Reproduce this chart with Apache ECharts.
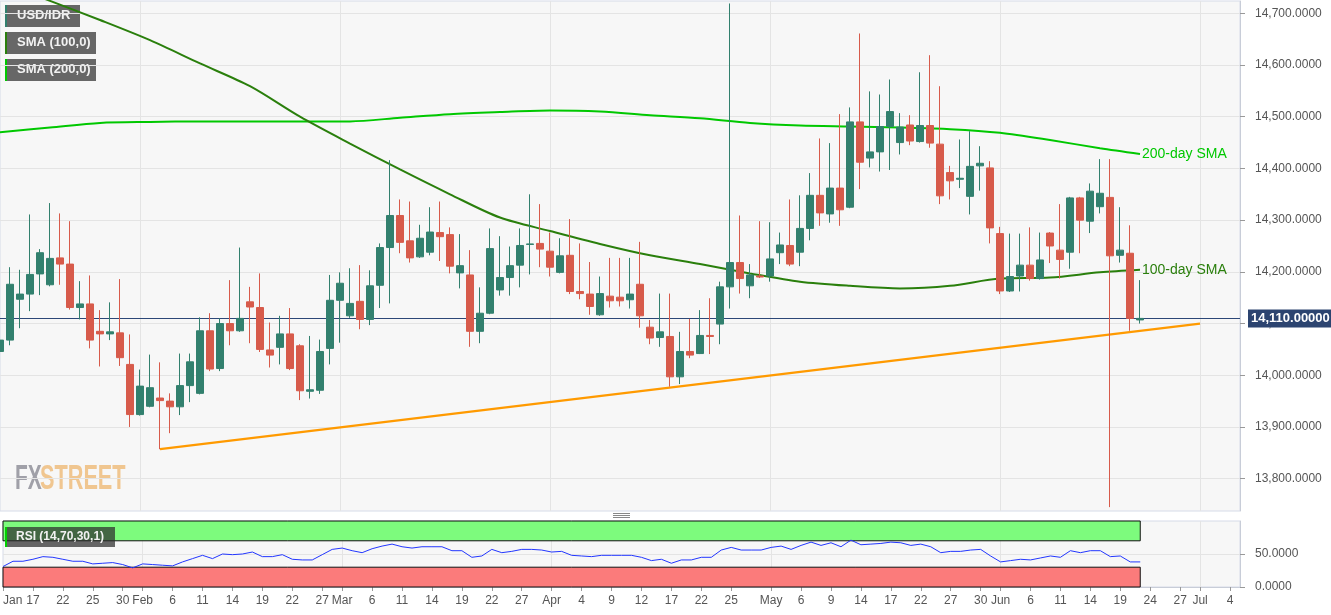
<!DOCTYPE html>
<html><head><meta charset="utf-8">
<script src="https://cdn.jsdelivr.net/npm/echarts@6/dist/echarts.min.js"></script>
<style>html,body{margin:0;padding:0;background:#fff}#c{width:1331px;height:615px}</style>
</head><body><div id="c"></div><script>
// ---- DATA ----
const opens  = [14046,14068,14147,14157,14196,14175,14227,14215,14131,14138,14085,14080,14082,14021,13924,13940,13956,13950,13939,13980,
 13965,14086,14013,14100,14086,14142,14131,14049,14054,14080,14057,13969,13971,14052,14145,14115,14143,14108,14174,14247,
 14309,14260,14229,14238,14276,14272,14198,14194,14085,14120,14165,14189,14213,14253,14255,14240,14199,14232,14162,14157,
 14117,14153,14151,14146,14176,14093,14073,14075,13997,14046,14042,14077,14099,14171,14218,14173,14192,14192,14237,14251,
 14238,14284,14348,14312,14362,14325,14490,14420,14432,14481,14450,14484,14452,14483,14447,14392,14379,14346,14405,14401,
 14274,14163,14192,14213,14187,14275,14242,14238,14343,14298,14326,14344,14232,14236,14107];
const closes = [14068,14176,14157,14195,14237,14226,14215,14131,14138,14068,14080,14084,14034,13924,13979,13976,13951,13939,13980,14026,
 14086,14012,14100,14086,14110,14132,14050,14039,14080,14013,13970,13972,14046,14145,14178,14139,14108,14173,14247,14309,
 14257,14227,14265,14277,14268,14211,14212,14085,14120,14245,14189,14212,14251,14254,14244,14209,14231,14162,14158,14133,
 14158,14144,14144,14157,14115,14072,14084,13997,14046,14039,14077,14075,14171,14218,14187,14194,14190,14225,14252,14215,
 14284,14348,14314,14362,14320,14490,14412,14432,14481,14510,14480,14453,14483,14449,14347,14376,14381,14404,14410,14285,
 14163,14191,14213,14187,14223,14250,14224,14343,14300,14356,14352,14231,14242,14110,14110];
const highs  = [14181,14209,14204,14311,14244,14333,14313,14298,14182,14193,14126,14141,14186,14079,14011,14040,14025,13965,14042,14042,
 14112,14120,14110,14184,14247,14171,14197,14102,14115,14130,14060,14076,14069,14194,14199,14207,14213,14203,14255,14416,
 14340,14336,14291,14325,14336,14286,14273,14242,14170,14284,14269,14249,14284,14350,14331,14276,14265,14302,14255,14219,
 14191,14227,14227,14227,14258,14107,14158,14158,14084,14109,14126,14149,14181,14719,14309,14215,14298,14296,14276,14340,
 14348,14391,14458,14449,14505,14518,14661,14549,14543,14572,14507,14503,14586,14619,14559,14405,14456,14472,14443,14414,
 14287,14274,14274,14286,14276,14277,14331,14345,14345,14371,14418,14418,14325,14290,14184];
const lows   = [14018,14058,14091,14124,14155,14172,14175,14127,14108,14052,14017,14068,14018,13900,13922,13938,13857,13888,13923,13948,
 13963,14008,14008,14058,14084,14062,14045,14015,14021,14010,13952,13955,13964,14021,14063,14111,14089,14097,14130,14139,
 14236,14218,14227,14232,14221,14197,14168,14055,14062,14118,14154,14154,14170,14195,14209,14191,14197,14157,14147,14117,
 14115,14131,14133,14129,14092,14060,14055,13978,13983,14033,14041,14041,14060,14129,14158,14149,14188,14181,14215,14211,
 14211,14261,14289,14295,14289,14323,14360,14402,14394,14397,14427,14445,14450,14440,14331,14340,14362,14311,14357,14255,
 14157,14161,14162,14183,14185,14217,14187,14206,14236,14275,14313,13745,14218,14086,14100];

// SMA readings, one per Monday (every 5 sessions) plus the last session
const smaDates = ['2019-01-14','2019-01-21','2019-01-28','2019-02-04','2019-02-11','2019-02-18','2019-02-25','2019-03-04',
 '2019-03-11','2019-03-18','2019-03-25','2019-04-01','2019-04-08','2019-04-15','2019-04-22','2019-04-29','2019-05-06',
 '2019-05-13','2019-05-20','2019-05-27','2019-06-03','2019-06-10','2019-06-17','2019-06-21'];
const sma100 = [14762,14724,14687,14648,14603,14559,14500,14448,14398,14350,14305,14279,14254,14232,14215,14197,14181,14173,14168,14173,14187,14189,14199,14204];
const sma200 = [14470,14479,14488,14490,14491,14491,14491,14491,14498,14505,14509,14512,14510,14503,14497,14488,14483,14481,14479,14476,14469,14455,14439,14428];

const rsi = [31,39,39,42,46,45,42,39,39,35,36,37,34,29,35,34,33,32,38,43,
 48,43,50,49,50,53,46,46,49,42,41,41,49,57,59,55,52,58,62,65,
 61,59,61,61,61,55,55,45,47,57,52,54,57,57,56,53,54,48,47,46,
 48,48,48,48,45,40,42,36,41,41,45,45,56,60,56,56,56,60,62,57,
 63,68,63,67,61,71,64,65,66,68,67,63,65,61,52,54,54,56,57,47,
 38,40,42,41,44,47,45,55,52,55,55,46,47,38,38];

const trendDates = ['2019-02-05','2019-07-01'];
const trendValues = [13857,14100];
const lastPrice = 14110;

const priceTicks = [13800,13900,14000,14100,14200,14300,14400,14500,14600,14700];
const rsiTicks = [0,50];
const xTickDates = ['2019-01-14','2019-01-17','2019-01-22','2019-01-25','2019-01-30','2019-02-01','2019-02-06','2019-02-11',
 '2019-02-14','2019-02-19','2019-02-22','2019-02-27','2019-03-01','2019-03-06','2019-03-11','2019-03-14','2019-03-19',
 '2019-03-22','2019-03-27','2019-04-01','2019-04-04','2019-04-09','2019-04-12','2019-04-17','2019-04-22','2019-04-25',
 '2019-05-01','2019-05-06','2019-05-09','2019-05-14','2019-05-17','2019-05-22','2019-05-27','2019-05-30','2019-06-03',
 '2019-06-06','2019-06-11','2019-06-14','2019-06-19','2019-06-24','2019-06-27','2019-07-01','2019-07-04'];
const monthNames = ['Jan','Feb','Mar','Apr','May','Jun','Jul','Aug','Sep','Oct','Nov','Dec'];

// ---- categories: weekdays Jan 14 .. Jul 5 2019 ----
const categories = [];
for (let t = Date.UTC(2019,0,14); t <= Date.UTC(2019,6,5); t += 86400000) {
  const d = new Date(t); const wd = d.getUTCDay();
  if (wd > 0 && wd < 6) categories.push(d.toISOString().slice(0,10));
}
const monthStarts = new Set();
categories.forEach((c,i)=>{ if(i>0 && c.slice(5,7)!==categories[i-1].slice(5,7)) monthStarts.add(c); });
const tickSet = new Set(xTickDates);

function fmt(v, dec){
  const s = v.toFixed(dec); const parts = s.split('.');
  parts[0] = parts[0].replace(/\B(?=(\d{3})+(?!\d))/g, ',');
  return parts.join('.');
}

const candleData = opens.map((o,i)=>[o, closes[i], lows[i], highs[i]]);
const nBars = opens.length;

const UP = '#32806e', DOWN = '#d75b4b';
const GRIDC = '#e4e4e4';
const FONT = '"Liberation Sans", Arial, sans-serif';
const WM = 'bold 35px "Liberation Sans", Arial, sans-serif';

const chart = echarts.init(document.getElementById('c'), null, {renderer:'canvas'});
chart.setOption({
  animation: false,
  backgroundColor: '#ffffff',
  grid: [
    {left: -1, top: 1, width: 1241, height: 510, show: true, backgroundColor: '#f7f7f7', borderColor: '#d6dbe8', borderWidth: 1},
    {left: -1, top: 521, width: 1241, height: 66, show: true, backgroundColor: '#f7f7f7', borderColor: '#d6dbe8', borderWidth: 1}
  ],
  xAxis: [
    {type:'category', gridIndex:0, data: categories, boundaryGap: false,
     axisLine:{show:false}, axisTick:{show:false}, axisLabel:{show:false},
     splitLine:{show:true, interval:(i,v)=>monthStarts.has(v), lineStyle:{color:GRIDC}}},
    {type:'category', gridIndex:1, data: categories, boundaryGap: false,
     axisLine:{show:true, lineStyle:{color:'#c8cdd8'}},
     axisTick:{show:true, interval:(i,v)=>tickSet.has(v), length:4, lineStyle:{color:'#999'}},
     axisLabel:{show:true, interval:(i,v)=>tickSet.has(v), color:'#555', fontSize:12, fontFamily:FONT, margin:8,
       alignMinLabel:'left',
       formatter:(v)=>{ const m = +v.slice(5,7)-1; const dd = +v.slice(8,10);
         return (monthStarts.has(v) || v===categories[0]) ? monthNames[m] : String(dd); }},
     splitLine:{show:true, interval:(i,v)=>monthStarts.has(v), lineStyle:{color:GRIDC}}}
  ],
  yAxis: [
    {type:'value', gridIndex:0, position:'right', min:13737.5, max:14723.8, scale:true,
     axisLine:{show:true, lineStyle:{color:'#c8cdd8'}},
     axisTick:{show:true, customValues: priceTicks, length:5, lineStyle:{color:'#999'}},
     axisLabel:{customValues: priceTicks, formatter:(v)=>fmt(v,4), color:'#555', fontSize:12, fontFamily:FONT, margin:15},
     splitLine:{show:true, lineStyle:{color:GRIDC}}},
    {type:'value', gridIndex:1, position:'right', min:0, max:100,
     axisLine:{show:true, lineStyle:{color:'#c8cdd8'}},
     axisTick:{show:true, customValues: rsiTicks, length:5, lineStyle:{color:'#999'}},
     axisLabel:{customValues: rsiTicks, formatter:(v)=>fmt(v,4), color:'#555', fontSize:12, fontFamily:FONT, margin:15},
     splitLine:{show:true, lineStyle:{color:GRIDC}}}
  ],
  series: [
    {type:'line', name:'trend', xAxisIndex:0, yAxisIndex:0, data: trendDates.map((d,i)=>[d, trendValues[i]]),
     symbol:'none', lineStyle:{color:'#ff9a00', width:2.2}, z:3, silent:true},
    {type:'line', name:'SMA200', xAxisIndex:0, yAxisIndex:0, data: smaDates.map((d,i)=>[d, sma200[i]]),
     smooth:0.3, symbol:'none', lineStyle:{color:'#00c800', width:2}, z:4,
     endLabel:{show:true, formatter:'200-day SMA', color:'#00c800', fontSize:14, fontFamily:FONT, distance:2}},
    {type:'line', name:'SMA100', xAxisIndex:0, yAxisIndex:0, data: smaDates.map((d,i)=>[d, sma100[i]]),
     smooth:0.3, symbol:'none', lineStyle:{color:'#2a7f0c', width:2}, z:4,
     endLabel:{show:true, formatter:'100-day SMA', color:'#2a7f0c', fontSize:14, fontFamily:FONT, distance:2}},
    {type:'candlestick', name:'USD/IDR', xAxisIndex:0, yAxisIndex:0, data: candleData, barWidth:7, z:5,
     itemStyle:{color:UP, color0:DOWN, borderColor:UP, borderColor0:DOWN, borderWidth:1},
     markLine:{symbol:['none','none'], silent:true, animation:false,
       data:[{yAxis: lastPrice}],
       lineStyle:{color:'#2c4777', width:1, type:'solid'},
       label:{show:true, position:'end', formatter:()=>fmt(lastPrice,5), color:'#fff', fontWeight:'bold',
         fontSize:13, fontFamily:FONT, backgroundColor:'#2c4470', padding:[3,3,2,3], distance:8}}},
    {type:'line', name:'bands', xAxisIndex:1, yAxisIndex:1, data: [], z:1, silent:true,
     markArea:{silent:true, itemStyle:{borderColor:'#111', borderWidth:1},
       data:[
         [{xAxis: categories[0], yAxis:70, itemStyle:{color:'#7dfb7d', borderColor:'#111', borderWidth:1}}, {xAxis: categories[nBars-1], yAxis:100}],
         [{xAxis: categories[0], yAxis:0, itemStyle:{color:'#fb7b7b', borderColor:'#111', borderWidth:1}}, {xAxis: categories[nBars-1], yAxis:30}]
       ]}},
    {type:'line', name:'RSI', xAxisIndex:1, yAxisIndex:1, data: rsi, symbol:'none', z:5,
     lineStyle:{color:'#2236ff', width:1}}
  ],
  graphic: [
    // legend boxes
    {type:'group', left:5, top:5, children:[
      {type:'rect', shape:{x:0,y:0,width:75,height:22}, style:{fill:'rgba(90,90,90,0.92)'}},
      {type:'rect', shape:{x:0,y:0,width:2,height:22}, style:{fill:'#32806e'}},
      {type:'text', x:12, y:4, style:{text:'USD/IDR', fill:'#f2f2f2', font:'bold 13px '+FONT}}
    ]},
    {type:'group', left:5, top:32, children:[
      {type:'rect', shape:{x:0,y:0,width:91,height:22}, style:{fill:'rgba(90,90,90,0.92)'}},
      {type:'rect', shape:{x:0,y:0,width:2,height:22}, style:{fill:'#2a7f0c'}},
      {type:'text', x:12, y:4, style:{text:'SMA (100,0)', fill:'#f2f2f2', font:'bold 13px '+FONT}}
    ]},
    {type:'group', left:5, top:59, children:[
      {type:'rect', shape:{x:0,y:0,width:91,height:22}, style:{fill:'rgba(90,90,90,0.92)'}},
      {type:'rect', shape:{x:0,y:0,width:2,height:22}, style:{fill:'#00c800'}},
      {type:'text', x:12, y:4, style:{text:'SMA (200,0)', fill:'#f2f2f2', font:'bold 13px '+FONT}}
    ]},
    {type:'rect', left:5, top:527, z:200, zlevel:1, shape:{width:110,height:20}, style:{fill:'rgba(45,45,45,0.72)'}},
    {type:'rect', left:5, top:527, z:201, zlevel:1, shape:{width:2,height:20}, style:{fill:'#00d000'}},
    {type:'text', left:16, top:531, z:202, zlevel:1, style:{text:'RSI (14,70,30,1)', fill:'#f2f2f2', font:'bold 12px '+FONT}},
    // watermark
    {type:'text', x:15, y:462, scaleX:0.6, z:0, style:{text:'FX', fill:'#a0a0a8', font:WM}},
    {type:'text', x:40, y:462, scaleX:0.62, z:0, style:{text:'STREET', fill:'#f0c690', font:WM}},
    // panel separator handle
    {type:'group', left:613, top:513, children:[
      {type:'rect', shape:{x:0,y:0,width:17,height:1}, style:{fill:'#888'}},
      {type:'rect', shape:{x:0,y:2,width:17,height:1}, style:{fill:'#888'}},
      {type:'rect', shape:{x:0,y:4,width:17,height:1}, style:{fill:'#888'}}
    ]}
  ]
});
</script></body></html>
